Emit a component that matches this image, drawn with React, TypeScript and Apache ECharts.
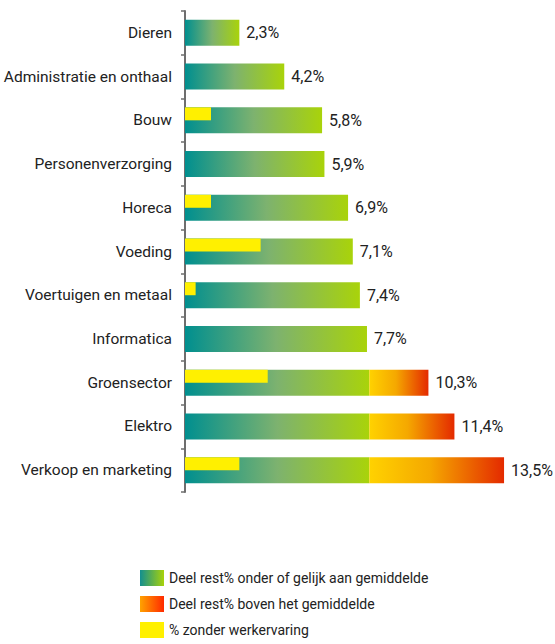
import React, { useEffect, useRef } from "react";
import * as echarts from "echarts";

const categories = [
  "Dieren",
  "Administratie en onthaal",
  "Bouw",
  "Personenverzorging",
  "Horeca",
  "Voeding",
  "Voertuigen en metaal",
  "Informatica",
  "Groensector",
  "Elektro",
  "Verkoop en marketing",
];
const totals = [2.3, 4.2, 5.8, 5.9, 6.9, 7.1, 7.4, 7.7, 10.3, 11.4, 13.5];
const zonderWerkervaring = [0, 0, 1.1, 0, 1.1, 3.2, 0.45, 0, 3.5, 0, 2.3];
const gemiddelde = 7.8;
const seriesNames = [
  "Deel rest% onder of gelijk aan gemiddelde",
  "Deel rest% boven het gemiddelde",
  "% zonder werkervaring",
];

const FONT = "Roboto, 'Liberation Sans', sans-serif";

const fmt = (v: number) => v.toFixed(1).replace(".", ",") + "%";

export default function App() {
  const ref = useRef<HTMLDivElement>(null);
  useEffect(() => {
    document.body.style.margin = "0";
    const chart = echarts.init(ref.current!, null, { renderer: "svg" });
    const below = totals.map((v) => Math.min(v, gemiddelde));
    const above = totals.map((v) => (v > gemiddelde ? +(v - gemiddelde).toFixed(2) : 0));
    const greenGrad = new echarts.graphic.LinearGradient(0, 0, 1, 0, [
      { offset: 0, color: "#008f8f" },
      { offset: 0.5, color: "#7db26f" },
      { offset: 1, color: "#a9d30a" },
    ]);
    const redGrad = new echarts.graphic.LinearGradient(0, 0, 1, 0, [
      { offset: 0, color: "#ffd200" },
      { offset: 0.45, color: "#f5a800" },
      { offset: 1, color: "#e42a00" },
    ]);
    const legendRedGrad = new echarts.graphic.LinearGradient(0, 0, 1, 0, [
      { offset: 0, color: "#ffa200" },
      { offset: 1, color: "#ff2a00" },
    ]);
    const legendGreenGrad = new echarts.graphic.LinearGradient(0, 0, 1, 0, [
      { offset: 0, color: "#138f8f" },
      { offset: 1, color: "#a8d20a" },
    ]);
    const labelStyle = {
      show: true,
      position: "right" as const,
      distance: 7,
      fontSize: 16,
      color: "#222",
      fontFamily: FONT,
    };
    chart.setOption({
      animation: false,
      grid: { left: 185, top: 11, height: 481, right: 15.5, outerBoundsMode: "none", containLabel: false },
      xAxis: { type: "value", min: 0, max: 15, show: false },
      yAxis: [
        {
          type: "category",
          data: categories,
          inverse: true,
          axisLine: { show: true, lineStyle: { color: "#6e6e6e", width: 2 } },
          axisTick: { show: true, length: 4, lineStyle: { color: "#6e6e6e", width: 1.5 } },
          axisLabel: { margin: 13, fontSize: 15.5, color: "#222", fontFamily: FONT },
        },
        {
          type: "category",
          data: categories,
          inverse: true,
          show: false,
        },
      ],
      legend: {
        orient: "vertical",
        left: 140,
        top: 570,
        padding: 0,
        itemWidth: 24,
        itemHeight: 16,
        itemGap: 10,
        icon: "rect",
        data: [
          { name: seriesNames[0], itemStyle: { color: legendGreenGrad } },
          { name: seriesNames[1], itemStyle: { color: legendRedGrad } },
          { name: seriesNames[2] },
        ],
        textStyle: { fontSize: 14, color: "#222", fontFamily: FONT },
      },
      series: [
        {
          name: seriesNames[0],
          type: "bar",
          stack: "total",
          barWidth: 26,
          yAxisIndex: 0,
          data: below,
          itemStyle: { color: greenGrad },
          label: {
            ...labelStyle,
            formatter: (p: any) => (totals[p.dataIndex] <= gemiddelde ? fmt(totals[p.dataIndex]) : ""),
          },
        },
        {
          name: seriesNames[1],
          type: "bar",
          stack: "total",
          barWidth: 26,
          yAxisIndex: 0,
          data: above,
          itemStyle: { color: redGrad },
          label: {
            ...labelStyle,
            formatter: (p: any) => (totals[p.dataIndex] > gemiddelde ? fmt(totals[p.dataIndex]) : ""),
          },
        },
        {
          name: seriesNames[2],
          type: "bar",
          yAxisIndex: 1,
          barWidth: 13,
          barGap: 0,
          data: zonderWerkervaring,
          itemStyle: { color: "#fff000" },
        },
        {
          name: "_pad",
          type: "bar",
          yAxisIndex: 1,
          barWidth: 13,
          barGap: 0,
          data: categories.map(() => "-"),
          silent: true,
        },
      ],
    });
    return () => chart.dispose();
  }, []);
  return <div ref={ref} style={{ width: 555, height: 644 }} />;
}
